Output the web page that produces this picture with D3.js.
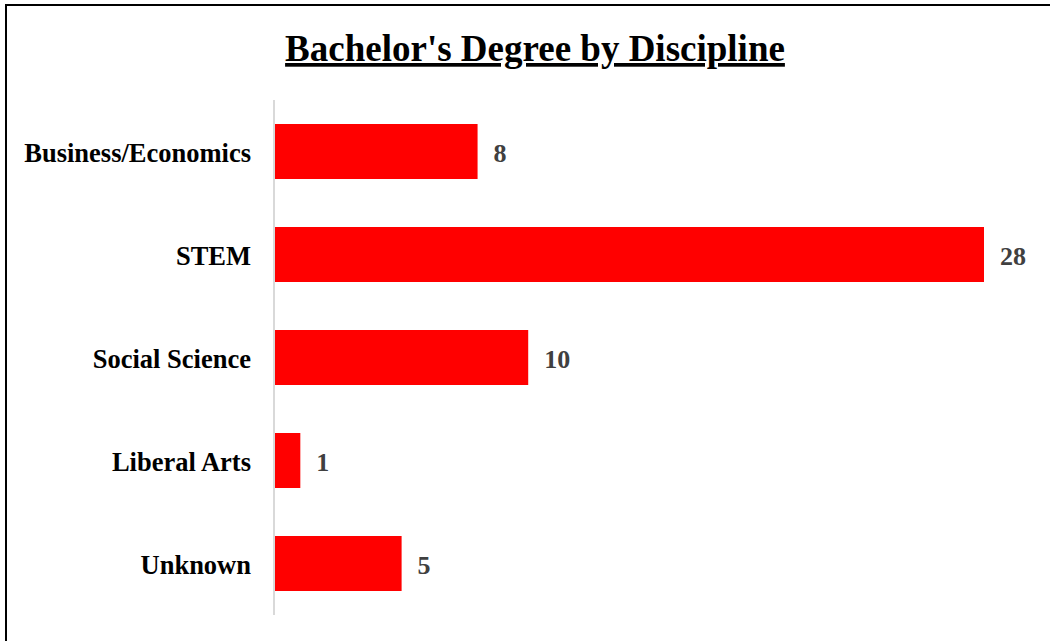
<!DOCTYPE html>
<html>
<head>
<meta charset="utf-8">
<script src="https://cdn.jsdelivr.net/npm/d3@7"></script>
<style>
  body { margin: 0; background: #fff; }
</style>
</head>
<body>
<div id="chart"></div>
<script>
// Chart data
const categories = ['Business/Economics', 'STEM', 'Social Science', 'Liberal Arts', 'Unknown'];
const counts = [8, 28, 10, 1, 5];
const titleText = "Bachelor's Degree by Discipline";

function drawChart() {
  const font = "'Liberation Serif', 'Times New Roman', serif";
  const W = 1050, H = 641;

  const svg = d3.select('#chart').append('svg')
    .attr('width', W)
    .attr('height', H)
    .style('font-family', font);

  // outer frame (bottom/right run off the picture)
  svg.append('rect')
    .attr('x', 6).attr('y', 5)
    .attr('width', W + 10).attr('height', H + 10)
    .attr('fill', 'none')
    .attr('stroke', '#000')
    .attr('stroke-width', 2);

  // title
  svg.append('text')
    .attr('x', 535).attr('y', 61)
    .attr('text-anchor', 'middle')
    .attr('font-size', '37px')
    .attr('font-weight', 'bold')
    .attr('text-decoration', 'underline')
    .text(titleText);

  const data = categories.map((c, i) => ({ cat: c, val: counts[i] }));

  const y = d3.scaleBand()
    .domain(categories)
    .range([100, 615])
    .paddingInner(0.466)
    .paddingOuter(0.233);

  const x = d3.scaleLinear()
    .domain([0, 28])
    .range([275, 984]);

  // bars
  svg.selectAll('.bar')
    .data(data)
    .join('rect')
    .attr('class', 'bar')
    .attr('x', x(0))
    .attr('y', d => y(d.cat))
    .attr('width', d => x(d.val) - x(0))
    .attr('height', y.bandwidth())
    .attr('fill', '#ff0000');

  // value labels
  svg.selectAll('.val')
    .data(data)
    .join('text')
    .attr('class', 'val')
    .attr('x', d => x(d.val) + 16)
    .attr('y', d => y(d.cat) + y.bandwidth() / 2 + 1)
    .attr('dy', '0.35em')
    .attr('font-size', '26px')
    .attr('font-weight', 'bold')
    .attr('fill', '#404040')
    .text(d => d.val);

  // category axis
  const yAxis = svg.append('g')
    .attr('transform', 'translate(274,0)')
    .call(d3.axisLeft(y).tickSize(0).tickPadding(23));
  yAxis.select('.domain')
    .attr('stroke', '#d9d9d9')
    .attr('stroke-width', 2)
    .attr('d', 'M0,100V615');
  yAxis.selectAll('text')
    .attr('font-family', font)
    .attr('font-size', '26.5px')
    .attr('font-weight', 'bold')
    .attr('fill', '#000')
    .attr('dy', '0.4em');
}

drawChart();
</script>
</body>
</html>
